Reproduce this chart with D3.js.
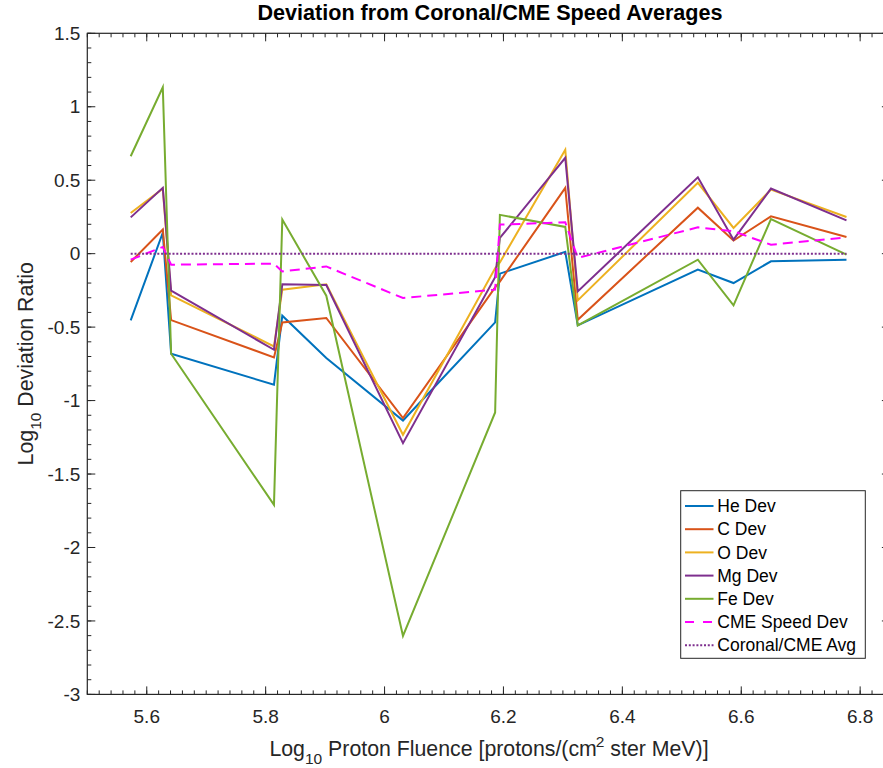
<!DOCTYPE html>
<html>
<head>
<meta charset="utf-8">
<script src="https://cdn.jsdelivr.net/npm/d3@7"></script>
<style>
  html, body { margin: 0; padding: 0; background: #fff; }
  svg { display: block; font-family: "Liberation Sans", Arial, Helvetica, sans-serif; }
</style>
</head>
<body>
<svg id="chart" width="883" height="768"></svg>
<script>
// ---- data ----
const xVals  = [5.573, 5.627, 5.641, 5.814, 5.828, 5.902, 6.031, 6.186, 6.194, 6.304, 6.325, 6.527, 6.587, 6.650, 6.777];
const heDev  = [-0.454, 0.143, -0.681, -0.892, -0.422, -0.710, -1.136, -0.468, -0.136, 0.012, -0.488, -0.109, -0.200, -0.052, -0.041];
const cDev   = [-0.057, 0.165, -0.452, -0.706, -0.468, -0.438, -1.119, -0.230, -0.190, 0.448, -0.450, 0.313, 0.089, 0.254, 0.114];
const oDev   = [0.277, 0.443, -0.284, -0.631, -0.245, -0.209, -1.233, -0.100, -0.060, 0.708, -0.318, 0.482, 0.175, 0.436, 0.250];
const mgDev  = [0.247, 0.448, -0.252, -0.654, -0.209, -0.213, -1.290, -0.160, 0.107, 0.652, -0.257, 0.520, 0.095, 0.443, 0.227];
const feDev  = [0.663, 1.133, -0.681, -1.710, 0.232, -0.286, -2.602, -1.081, 0.264, 0.182, -0.488, -0.041, -0.352, 0.236, -0.007];
const cmeDev = [-0.041, 0.046, -0.075, -0.068, -0.121, -0.087, -0.302, -0.245, 0.198, 0.213, -0.029, 0.179, 0.152, 0.061, 0.111];
const avgDev = [0, 0, 0, 0, 0, 0, 0, 0, 0, 0, 0, 0, 0, 0, 0];

const seriesNames = ["He Dev", "C Dev", "O Dev", "Mg Dev", "Fe Dev", "CME Speed Dev", "Coronal/CME Avg"];
const xTickVals = [5.6, 5.8, 6.0, 6.2, 6.4, 6.6, 6.8];
const xTickLabels = ["5.6", "5.8", "6", "6.2", "6.4", "6.6", "6.8"];
const yTickVals = [1.5, 1, 0.5, 0, -0.5, -1, -1.5, -2, -2.5, -3];
const yTickLabels = ["1.5", "1", "0.5", "0", "-0.5", "-1", "-1.5", "-2", "-2.5", "-3"];

// ---- styles ----
const styles = [
  { color: "#0072BD", dash: null, w: 2 },
  { color: "#D95319", dash: null, w: 2 },
  { color: "#EDB120", dash: null, w: 2 },
  { color: "#7E2F8E", dash: null, w: 2 },
  { color: "#77AC30", dash: null, w: 2 },
  { color: "#FF00FF", dash: "10,6", w: 2 },
  { color: "#7E2F8E", dash: "2,1.8", w: 2 }
];
const seriesData = [heDev, cDev, oDev, mgDev, feDev, cmeDev, avgDev];

const svg = d3.select("#chart");
const pLeft = 87.3, pTop = 33.3, pBottom = 694.4;
const pRight = pLeft + 1.35 * 594.5;

const x = d3.scaleLinear().domain([5.5, 6.85]).range([pLeft, pRight]);
const y = d3.scaleLinear().domain([-3, 1.5]).range([pBottom, pTop]);
const axisColor = "#262626";

// ---- lines ----
const lineGen = d3.line().x((d, i) => x(xVals[i])).y(d => y(d));
seriesData.forEach((s, k) => {
  svg.append("path")
    .datum(s)
    .attr("d", lineGen)
    .attr("fill", "none")
    .attr("stroke", styles[k].color)
    .attr("stroke-width", styles[k].w)
    .attr("stroke-dasharray", styles[k].dash)
    .attr("stroke-linejoin", "miter")
    .attr("stroke-miterlimit", 10);
});

// ---- axes (MATLAB-style box with inward ticks) ----
const g = svg.append("g");
const xMinor = d3.range(5.5, 6.85 + 1e-9, 0.02);
const yMinor = d3.range(-3, 1.5 + 1e-9, 0.1);

function tick(x1, y1, x2, y2) {
  g.append("line").attr("x1", x1).attr("y1", y1).attr("x2", x2).attr("y2", y2)
    .attr("stroke", axisColor).attr("stroke-width", 1);
}
xMinor.forEach(v => {
  const px = x(v);
  tick(px, pBottom, px, pBottom - 4);
  tick(px, pTop, px, pTop + 4);
});
xTickVals.forEach(v => {
  const px = x(v);
  tick(px, pBottom, px, pBottom - 8);
  tick(px, pTop, px, pTop + 8);
});
yMinor.forEach(v => {
  const py = y(v);
  tick(pLeft, py, pLeft + 4, py);
  tick(pRight, py, pRight - 4, py);
});
yTickVals.forEach(v => {
  const py = y(v);
  tick(pLeft, py, pLeft + 8, py);
  tick(pRight, py, pRight - 8, py);
});

g.append("rect").attr("x", pLeft).attr("y", pTop)
  .attr("width", pRight - pLeft).attr("height", pBottom - pTop)
  .attr("fill", "none").attr("stroke", axisColor).attr("stroke-width", 1.2);

// tick labels
xTickVals.forEach((v, i) => {
  g.append("text").attr("x", x(v)).attr("y", pBottom + 29)
    .attr("text-anchor", "middle").attr("font-size", 19).attr("fill", axisColor)
    .text(xTickLabels[i]);
});
yTickVals.forEach((v, i) => {
  g.append("text").attr("x", pLeft - 7).attr("y", y(v)).attr("dy", "0.35em")
    .attr("text-anchor", "end").attr("font-size", 19).attr("fill", axisColor)
    .text(yTickLabels[i]);
});

// title
svg.append("text").attr("x", 490).attr("y", 20)
  .attr("text-anchor", "middle").attr("font-size", 21.6).attr("font-weight", "bold")
  .attr("fill", "#000").text("Deviation from Coronal/CME Speed Averages");

// x label
const xl = svg.append("text").attr("x", 489).attr("y", 756)
  .attr("text-anchor", "middle").attr("font-size", 21.3).attr("fill", axisColor);
xl.append("tspan").text("Log");
xl.append("tspan").attr("font-size", 15.5).attr("dy", 8).text("10");
xl.append("tspan").attr("dy", -8).text(" Proton Fluence [protons/(cm");
xl.append("tspan").attr("font-size", 15.5).attr("dy", -9).attr("dx", -1).text("2");
xl.append("tspan").attr("dy", 9).text(" ster MeV)]");

// y label
const yl = svg.append("text").attr("transform", `translate(33,${(pTop + pBottom) / 2}) rotate(-90)`)
  .attr("text-anchor", "middle").attr("font-size", 21.3).attr("fill", axisColor);
yl.append("tspan").text("Log");
yl.append("tspan").attr("font-size", 15.5).attr("dy", 8).text("10");
yl.append("tspan").attr("dy", -8).text(" Deviation Ratio");

// ---- legend ----
const lg = svg.append("g");
const lx = 680.7, ly = 490.7, lw = 865.3 - 680.7, lh = 658.3 - 490.7;
lg.append("rect").attr("x", lx).attr("y", ly).attr("width", lw).attr("height", lh)
  .attr("fill", "#fff").attr("stroke", axisColor).attr("stroke-width", 1);
seriesNames.forEach((name, k) => {
  const cy = 506 + k * 23.2;
  lg.append("line").attr("x1", 685).attr("x2", 713.5).attr("y1", cy).attr("y2", cy)
    .attr("stroke", styles[k].color).attr("stroke-width", styles[k].w)
    .attr("stroke-dasharray", k === 5 ? "9,9" : styles[k].dash);
  lg.append("text").attr("x", 717.3).attr("y", cy).attr("dy", "0.35em")
    .attr("font-size", 17.5).attr("fill", "#000").text(name);
});
</script>
</body>
</html>
